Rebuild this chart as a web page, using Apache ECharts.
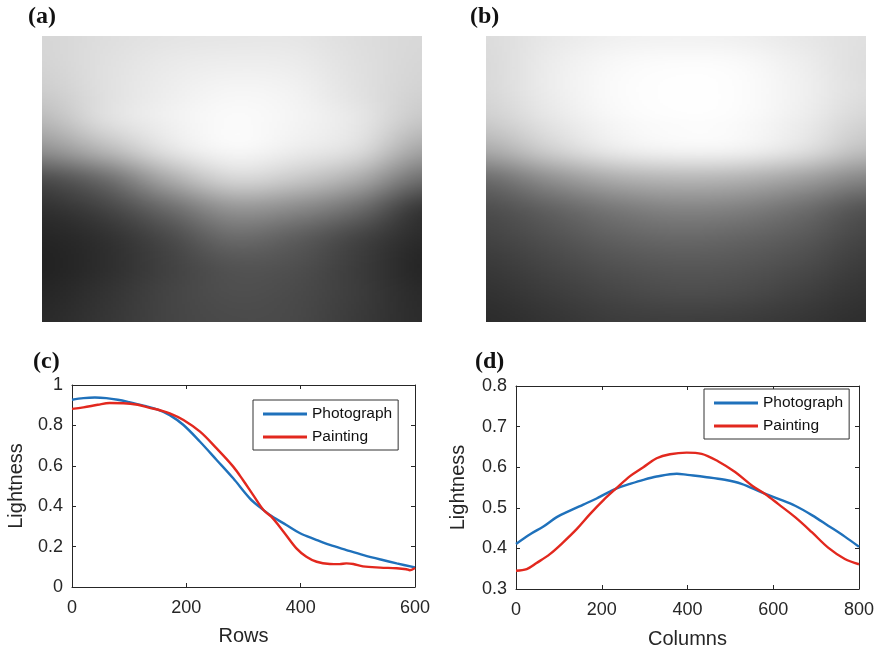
<!DOCTYPE html>
<html>
<head>
<meta charset="utf-8">
<script src="https://cdn.jsdelivr.net/npm/echarts@6/dist/echarts.min.js"></script>
<style>
  html, body { margin: 0; padding: 0; background: #ffffff; }
  #chart { width: 878px; height: 652px; }
</style>
</head>
<body>
<div id="chart"></div>
<script>
// ---- Image size in pixels (columns x rows) ----
const IMG_COLS = 800;
const IMG_ROWS = 600;

// ---- Gray levels (0-255) sampled on a 7 x 11 lattice across each image ----
// rows run top to bottom, columns left to right, both evenly spaced incl. edges
const photoGray = [
  [214, 222, 228, 230, 230, 222, 216],
  [212, 224, 234, 238, 236, 224, 214],
  [204, 224, 238, 246, 242, 226, 210],
  [184, 220, 240, 250, 244, 230, 198],
  [144, 182, 225, 246, 236, 218, 165],
  [78, 110, 170, 212, 200, 170, 112],
  [50, 70, 110, 150, 140, 110, 58],
  [38, 50, 76, 108, 96, 70, 44],
  [34, 46, 66, 84, 80, 60, 38],
  [38, 51, 68, 78, 74, 60, 42],
  [42, 54, 68, 74, 72, 58, 44]
];
const paintingGray = [
  [220, 232, 240, 242, 240, 232, 224],
  [218, 236, 248, 252, 250, 238, 222],
  [216, 236, 250, 254, 252, 240, 222],
  [204, 228, 246, 252, 250, 236, 212],
  [170, 205, 232, 242, 240, 222, 190],
  [110, 144, 172, 182, 178, 160, 134],
  [80, 100, 122, 134, 130, 112, 86],
  [68, 82, 98, 106, 102, 90, 70],
  [58, 70, 82, 88, 86, 76, 60],
  [50, 60, 70, 76, 74, 64, 52],
  [44, 52, 60, 62, 60, 54, 46]
];

// ---- Lightness along rows (panel c) ----
const rowPhotoX = [0, 20, 40, 60, 80, 100, 125, 150, 171, 195, 224, 253, 282, 311, 329, 349, 375, 399, 425, 451, 480, 510, 540, 568, 600];
const rowPhotoY = [0.927, 0.935, 0.938, 0.935, 0.927, 0.915, 0.898, 0.878, 0.851, 0.802, 0.719, 0.629, 0.538, 0.439, 0.394, 0.351, 0.307, 0.266, 0.236, 0.208, 0.183, 0.158, 0.136, 0.117, 0.097];
const rowPaintX = [0, 20, 45, 66, 90, 115, 136, 154, 171, 195, 224, 253, 282, 299, 317, 335, 349, 370, 393, 410, 428, 451, 468, 480, 492, 509, 539, 568, 585, 591, 600];
const rowPaintY = [0.882, 0.889, 0.902, 0.911, 0.910, 0.902, 0.887, 0.875, 0.860, 0.827, 0.769, 0.686, 0.596, 0.530, 0.455, 0.381, 0.347, 0.274, 0.190, 0.150, 0.125, 0.114, 0.113, 0.117, 0.114, 0.102, 0.096, 0.093, 0.088, 0.083, 0.094];

// ---- Lightness along columns (panel d) ----
const colPhotoX = [0, 33, 64, 95, 126, 157, 188, 219, 235, 266, 297, 328, 375, 400, 441, 487, 526, 573, 612, 651, 690, 728, 767, 800];
const colPhotoY = [0.411, 0.435, 0.454, 0.477, 0.493, 0.508, 0.523, 0.540, 0.548, 0.559, 0.569, 0.577, 0.584, 0.581, 0.576, 0.569, 0.559, 0.538, 0.522, 0.505, 0.482, 0.456, 0.429, 0.404];
const colPaintX = [0, 25, 48, 79, 110, 142, 173, 204, 235, 266, 297, 328, 359, 398, 433, 472, 511, 550, 581, 612, 651, 690, 728, 767, 800];
const colPaintY = [0.345, 0.349, 0.364, 0.386, 0.415, 0.448, 0.485, 0.519, 0.549, 0.578, 0.600, 0.622, 0.632, 0.636, 0.633, 0.614, 0.588, 0.555, 0.534, 0.509, 0.477, 0.440, 0.402, 0.374, 0.361];

// ---- Axis ticks ----
const rowTicks = { min: 0, max: 600, interval: 200 };
const colTicks = { min: 0, max: 800, interval: 200 };
const rowLightTicks = { min: 0, max: 1, interval: 0.2 };
const colLightTicks = { min: 0.3, max: 0.8, interval: 0.1 };

const SERIES_NAMES = ['Photograph', 'Painting'];
const BLUE = '#1f71bb';
const RED = '#e2281e';
const AXIS_COLOR = '#262626';
const SANS = '"Liberation Sans", Arial, Helvetica, sans-serif';
const SERIF = '"Liberation Serif", "Times New Roman", serif';
const RESAMPLE = 24; // canvas pixels between two neighbouring gray samples

const zip = (xs, ys) => xs.map((x, i) => [x, ys[i]]);

// Catmull-Rom resampling of one line of samples (ends clamped)
function resampleLine(values, k) {
  const n = values.length, out = [];
  const at = i => values[Math.max(0, Math.min(n - 1, i))];
  for (let i = 0; i < n - 1; i++) {
    const p0 = at(i - 1), p1 = at(i), p2 = at(i + 1), p3 = at(i + 2);
    for (let s = 0; s < k; s++) {
      const t = s / k, t2 = t * t, t3 = t2 * t;
      out.push(0.5 * (2 * p1 + (-p0 + p2) * t + (2 * p0 - 5 * p1 + 4 * p2 - p3) * t2 + (-p0 + 3 * p1 - 3 * p2 + p3) * t3));
    }
  }
  out.push(values[n - 1]);
  return out;
}

// Smooth raster of a gray-sample lattice, drawn into an offscreen canvas
function grayCanvas(grid) {
  const wide = grid.map(row => resampleLine(row, RESAMPLE));
  const W = wide[0].length;
  const columns = [];
  for (let i = 0; i < W; i++) columns.push(resampleLine(wide.map(r => r[i]), RESAMPLE));
  const H = columns[0].length;
  const c = document.createElement('canvas');
  c.width = W; c.height = H;
  const ctx = c.getContext('2d');
  const img = ctx.createImageData(W, H);
  for (let j = 0; j < H; j++) {
    for (let i = 0; i < W; i++) {
      const g = Math.max(0, Math.min(255, Math.round(columns[i][j])));
      const k = (j * W + i) * 4;
      img.data[k] = img.data[k + 1] = img.data[k + 2] = g;
      img.data[k + 3] = 255;
    }
  }
  ctx.putImageData(img, 0, 0);
  return c;
}

function pictureRenderer(grid) {
  const canvas = grayCanvas(grid);
  const W = canvas.width, H = canvas.height;
  return function (params, api) {
    const tl = api.coord([0, 0]);
    const br = api.coord([IMG_COLS, IMG_ROWS]);
    const w = br[0] - tl[0], h = br[1] - tl[1];
    // raster pixels are centred on the sample positions: pad by half a pixel
    const pw = w / (W - 1), ph = h / (H - 1);
    return {
      type: 'image',
      style: { image: canvas, x: tl[0] - pw / 2, y: tl[1] - ph / 2, width: w + pw, height: h + ph }
    };
  };
}

function imageAxes(gridIndex) {
  return {
    x: { type: 'value', gridIndex, min: 0, max: IMG_COLS, show: false },
    y: { type: 'value', gridIndex, min: 0, max: IMG_ROWS, inverse: true, show: false }
  };
}

function boxAxis(gridIndex, ticks, position, extra) {
  const labelled = position === 'bottom' || position === 'left';
  const horizontal = position === 'bottom' || position === 'top';
  return Object.assign({
    type: 'value', gridIndex, position,
    min: ticks.min, max: ticks.max, interval: ticks.interval,
    axisLine: { show: true, onZero: false, lineStyle: { color: AXIS_COLOR, width: 1 } },
    axisTick: { show: true, inside: true, length: 4, lineStyle: { color: AXIS_COLOR, width: 1 } },
    splitLine: { show: false },
    axisLabel: {
      show: labelled, margin: horizontal ? 12 : 9, color: AXIS_COLOR,
      fontSize: 18, fontFamily: SANS
    },
    nameTextStyle: { color: AXIS_COLOR, fontSize: 20, fontFamily: SANS },
    nameLocation: 'middle'
  }, extra || {});
}

function legendBox(left, top) {
  return {
    left, top, orient: 'vertical', selectedMode: false,
    data: SERIES_NAMES, icon: 'rect', itemWidth: 44, itemHeight: 3, itemGap: 7,
    borderColor: '#333333', borderWidth: 1, padding: [6, 6, 5, 10],
    backgroundColor: '#ffffff',
    textStyle: { color: '#111111', fontSize: 15.5, fontFamily: SANS }
  };
}

function lineSeries(name, color, data, axisIndex) {
  return {
    type: 'line', name, data, xAxisIndex: axisIndex, yAxisIndex: axisIndex,
    showSymbol: false, symbol: 'none', smooth: 0.35,
    lineStyle: { color, width: 2.4 }, itemStyle: { color },
    z: 3
  };
}

function panelLabel(text, left, top) {
  return {
    type: 'text', left, top,
    style: { text, font: 'bold 24px ' + SERIF, fill: '#111111' }
  };
}

const imgA = imageAxes(0);
const imgB = imageAxes(1);

const option = {
  animation: false,
  backgroundColor: '#ffffff',
  grid: [
    { left: 42, top: 36, width: 380, height: 286 },
    { left: 486, top: 36, width: 380, height: 286 },
    { left: 72, top: 385, width: 343, height: 202 },
    { left: 516, top: 386, width: 343, height: 203 }
  ],
  xAxis: [
    imgA.x,
    imgB.x,
    boxAxis(2, rowTicks, 'bottom', { name: 'Rows', nameGap: 39 }),
    boxAxis(2, rowTicks, 'top'),
    boxAxis(3, colTicks, 'bottom', { name: 'Columns', nameGap: 40 }),
    boxAxis(3, colTicks, 'top')
  ],
  yAxis: [
    imgA.y,
    imgB.y,
    boxAxis(2, rowLightTicks, 'left', { name: 'Lightness', nameGap: 46 }),
    boxAxis(2, rowLightTicks, 'right'),
    boxAxis(3, colLightTicks, 'left', { name: 'Lightness', nameGap: 48 }),
    boxAxis(3, colLightTicks, 'right')
  ],
  legend: [legendBox(253, 400), legendBox(704, 389)],
  graphic: [
    panelLabel('(a)', 28, 5),
    panelLabel('(b)', 470, 5),
    panelLabel('(c)', 33, 350),
    panelLabel('(d)', 475, 350)
  ],
  series: [
    { type: 'custom', xAxisIndex: 0, yAxisIndex: 0, clip: true, silent: true,
      data: [[0, 0]], renderItem: pictureRenderer(photoGray) },
    { type: 'custom', xAxisIndex: 1, yAxisIndex: 1, clip: true, silent: true,
      data: [[0, 0]], renderItem: pictureRenderer(paintingGray) },
    lineSeries('Photograph', BLUE, zip(rowPhotoX, rowPhotoY), 2),
    lineSeries('Painting', RED, zip(rowPaintX, rowPaintY), 2),
    lineSeries('Photograph', BLUE, zip(colPhotoX, colPhotoY), 4),
    lineSeries('Painting', RED, zip(colPaintX, colPaintY), 4)
  ]
};

const chart = echarts.init(document.getElementById('chart'), null, { renderer: 'canvas' });
chart.setOption(option);
</script>
</body>
</html>
